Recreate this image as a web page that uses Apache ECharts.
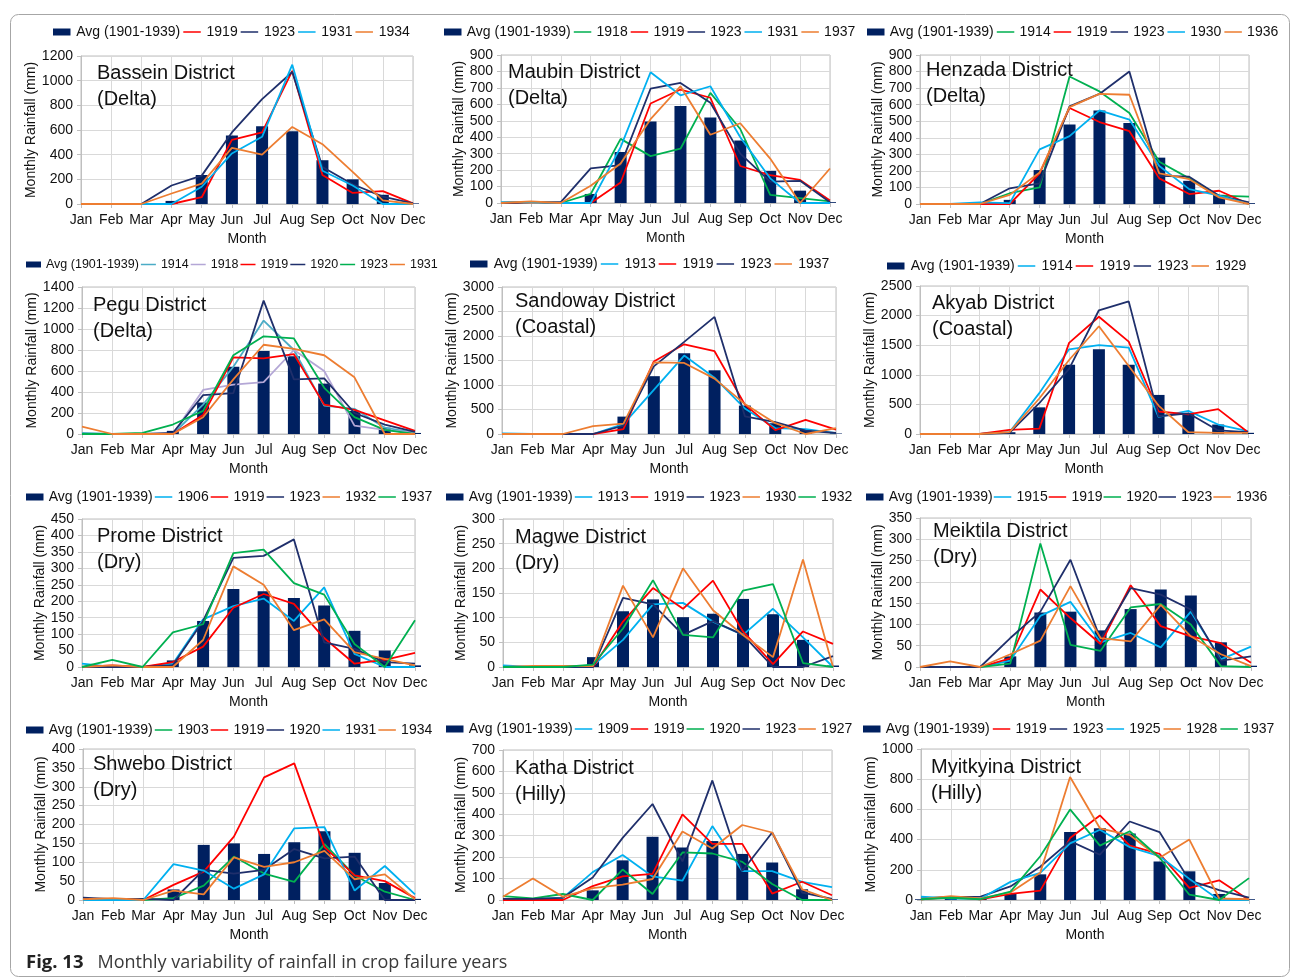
<!DOCTYPE html>
<html>
<head>
<meta charset="utf-8">
<script src="https://cdn.jsdelivr.net/npm/echarts@6.0.0/dist/echarts.min.js"></script>
<style>
  html, body { margin: 0; padding: 0; background: #ffffff; }
  #chart { width: 1295px; height: 979px; }
</style>
</head>
<body>
<div id="chart"></div>
<script>
// Month categories shared by every panel
const MONTHS = ['Jan', 'Feb', 'Mar', 'Apr', 'May', 'Jun', 'Jul', 'Aug', 'Sep', 'Oct', 'Nov', 'Dec'];

// Monthly rainfall (mm): long-term average and crop-failure years, per district
const basseinAvg  = [0, 0, 0, 25, 235, 555, 630, 590, 355, 200, 75, 5];
const bassein1919 = [0, 0, 0, 0, 55, 520, 580, 1080, 235, 90, 105, 5];
const bassein1923 = [0, 0, 0, 150, 230, 580, 850, 1070, 300, 160, 60, 5];
const bassein1931 = [0, 0, 0, 0, 140, 410, 545, 1130, 270, 150, 0, 0];
const bassein1934 = [0, 0, 0, 85, 165, 455, 400, 625, 485, 260, 30, 0];

const maubinAvg  = [0, 0, 0, 55, 310, 495, 590, 520, 380, 195, 75, 5];
const maubin1918 = [0, 5, 0, 55, 390, 285, 330, 670, 450, 50, 30, 10];
const maubin1919 = [0, 5, 0, 0, 125, 605, 690, 640, 225, 170, 140, 15];
const maubin1923 = [0, 5, 5, 210, 230, 695, 730, 610, 300, 130, 135, 5];
const maubin1931 = [5, 5, 0, 0, 340, 795, 655, 710, 400, 150, 0, 0];
const maubin1937 = [0, 10, 0, 105, 240, 510, 710, 415, 485, 270, 0, 210];

const henzadaAvg  = [0, 0, 0, 25, 205, 480, 565, 490, 280, 140, 55, 5];
const henzada1914 = [0, 0, 0, 65, 100, 770, 680, 550, 255, 155, 50, 45];
const henzada1919 = [0, 0, 0, 0, 185, 580, 495, 440, 155, 60, 80, 0];
const henzada1923 = [0, 0, 0, 95, 125, 590, 665, 800, 170, 165, 50, 10];
const henzada1930 = [0, 0, 10, 5, 330, 410, 565, 510, 230, 90, 50, 0];
const henzada1936 = [0, 0, 0, 55, 190, 585, 665, 660, 185, 150, 40, 0];

const peguAvg  = [0, 0, 0, 30, 300, 640, 790, 740, 480, 220, 60, 10];
const pegu1914 = [10, 0, 0, 0, 280, 640, 1080, 800, 270, 240, 60, 10];
const pegu1918 = [0, 0, 0, 0, 420, 470, 495, 800, 600, 80, 40, 10];
const pegu1919 = [0, 0, 0, 0, 180, 730, 720, 760, 280, 230, 130, 30];
const pegu1920 = [0, 0, 0, 10, 370, 390, 1270, 520, 530, 200, 90, 20];
const pegu1923 = [0, 0, 10, 90, 220, 750, 930, 910, 440, 160, 40, 0];
const pegu1931 = [70, 0, 0, 0, 160, 520, 850, 810, 750, 540, 0, 0];

const sandowayAvg  = [0, 0, 0, 0, 355, 1180, 1650, 1300, 580, 220, 100, 10];
const sandoway1913 = [10, 0, 0, 0, 200, 900, 1600, 1150, 520, 120, 100, 20];
const sandoway1919 = [0, 0, 0, 0, 100, 1480, 1830, 1690, 600, 80, 290, 90];
const sandoway1923 = [0, 0, 0, 0, 170, 1380, 1880, 2390, 360, 240, 70, 20];
const sandoway1937 = [0, 0, 0, 160, 210, 1460, 1450, 1130, 610, 220, 0, 120];

const akyabAvg  = [0, 0, 0, 30, 450, 1170, 1430, 1170, 660, 340, 160, 20];
const akyab1914 = [0, 0, 0, 30, 690, 1430, 1500, 1460, 290, 390, 160, 50];
const akyab1919 = [0, 0, 0, 70, 90, 1540, 1980, 1560, 380, 330, 420, 30];
const akyab1923 = [0, 0, 0, 20, 520, 1100, 2090, 2240, 300, 350, 60, 30];
const akyab1929 = [0, 0, 0, 30, 600, 1250, 1820, 1150, 480, 30, 20, 20];

const promeAvg  = [0, 0, 0, 20, 140, 237, 230, 210, 187, 110, 50, 5];
const prome1906 = [10, 0, 0, 10, 145, 185, 208, 140, 242, 40, 0, 0];
const prome1919 = [0, 5, 0, 15, 62, 180, 222, 192, 88, 10, 22, 43];
const prome1923 = [0, 0, 0, 5, 140, 332, 338, 388, 75, 55, 15, 10];
const prome1932 = [0, 5, 0, 0, 82, 306, 250, 112, 145, 45, 25, 5];
const prome1937 = [0, 22, 0, 105, 130, 346, 357, 255, 220, 70, 0, 142];

const magweAvg  = [0, 0, 0, 20, 113, 137, 101, 108, 138, 107, 55, 3];
const magwe1913 = [3, 0, 0, 3, 55, 127, 130, 92, 65, 118, 60, 0];
const magwe1919 = [0, 0, 0, 0, 92, 160, 118, 175, 72, 6, 72, 47];
const magwe1923 = [0, 0, 0, 0, 140, 127, 65, 93, 65, 0, 0, 22];
const magwe1930 = [0, 2, 2, 2, 165, 60, 200, 115, 65, 20, 218, 0];
const magwe1932 = [0, 0, 0, 5, 78, 176, 65, 60, 155, 168, 8, 0];

const meiktilaAvg  = [0, 2, 0, 25, 128, 130, 86, 136, 182, 168, 58, 3];
const meiktila1915 = [0, 0, 0, 15, 120, 153, 58, 80, 46, 130, 18, 48];
const meiktila1919 = [0, 0, 0, 20, 182, 115, 54, 192, 96, 72, 56, 10];
const meiktila1920 = [0, 0, 0, 8, 290, 52, 38, 140, 148, 100, 2, 0];
const meiktila1923 = [0, 0, 0, 68, 130, 252, 65, 185, 170, 135, 15, 25];
const meiktila1936 = [0, 13, 0, 30, 62, 190, 68, 60, 146, 72, 30, 2];

const shweboAvg  = [0, 0, 0, 28, 146, 150, 122, 153, 182, 125, 45, 3];
const shwebo1903 = [0, 2, 0, 5, 38, 115, 70, 48, 148, 65, 22, 0];
const shwebo1919 = [0, 3, 0, 40, 75, 168, 325, 362, 140, 65, 50, 5];
const shwebo1920 = [6, 2, 3, 0, 80, 70, 80, 135, 110, 115, 0, 0];
const shwebo1931 = [0, 0, 0, 95, 78, 30, 68, 190, 193, 25, 90, 15];
const shwebo1934 = [2, 5, 0, 25, 15, 113, 88, 100, 130, 55, 68, 2];

const kathaAvg  = [0, 0, 0, 45, 185, 295, 245, 275, 215, 175, 50, 3];
const katha1909 = [5, 5, 10, 130, 210, 110, 90, 345, 135, 135, 85, 60];
const katha1919 = [0, 0, 0, 65, 110, 122, 400, 262, 262, 30, 85, 22];
const katha1920 = [18, 8, 28, 0, 142, 28, 222, 217, 178, 75, 0, 0];
const katha1923 = [5, 5, 10, 105, 290, 448, 180, 558, 135, 315, 35, 5];
const katha1927 = [15, 100, 15, 55, 72, 98, 320, 240, 350, 315, 50, 0];

const myitkyinaAvg  = [5, 10, 10, 40, 170, 450, 475, 440, 255, 190, 40, 5];
const myitkyina1919 = [5, 20, 5, 40, 62, 410, 560, 360, 305, 80, 130, 0];
const myitkyina1923 = [10, 20, 22, 90, 220, 390, 300, 520, 450, 130, 65, 15];
const myitkyina1925 = [22, 10, 10, 120, 180, 375, 465, 350, 290, 140, 0, 0];
const myitkyina1928 = [5, 25, 10, 50, 180, 815, 475, 430, 280, 400, 10, 5];
const myitkyina1937 = [5, 15, 5, 55, 290, 600, 360, 455, 280, 35, 0, 145];

// Series colours
const BAR = '#002060', RED = '#ff0000', NAVY = '#1f2f6b', LBLUE = '#00b0f0',
      ORANGE = '#ed7d31', GREEN = '#00b050', TEAL = '#4bacc6', LAVENDER = '#b4a7d6';
const FONT = '"Liberation Sans", Arial, Helvetica, sans-serif';
const AVG_LABEL = 'Avg (1901-1939)';

// Legend glyphs: a filled block for the bars, a thin centred stroke for the lines
const ICON_BAR = 'path://M0,0 L20,0 L20,8 L0,8 Z';
const ICON_LINE = 'path://M0,0 L0.01,0 L0.01,0.01 Z M0,3.1 L20,3.1 L20,4.9 L0,4.9 Z M0,8 L0.01,8 L0.01,7.99 Z';

// One entry per district panel
const panels = [
  { key: 'Bassein', title: 'Bassein District\n(Delta)', max: 1200, step: 200, avg: basseinAvg,
    lines: [['1919', bassein1919, RED], ['1923', bassein1923, NAVY], ['1931', bassein1931, LBLUE], ['1934', bassein1934, ORANGE]] },
  { key: 'Maubin', title: 'Maubin District\n(Delta)', max: 900, step: 100, avg: maubinAvg,
    lines: [['1918', maubin1918, GREEN], ['1919', maubin1919, RED], ['1923', maubin1923, NAVY], ['1931', maubin1931, LBLUE], ['1937', maubin1937, ORANGE]] },
  { key: 'Henzada', title: 'Henzada District\n(Delta)', max: 900, step: 100, avg: henzadaAvg,
    lines: [['1914', henzada1914, GREEN], ['1919', henzada1919, RED], ['1923', henzada1923, NAVY], ['1930', henzada1930, LBLUE], ['1936', henzada1936, ORANGE]] },
  { key: 'Pegu', title: 'Pegu District\n(Delta)', max: 1400, step: 200, avg: peguAvg,
    lines: [['1914', pegu1914, TEAL], ['1918', pegu1918, LAVENDER], ['1919', pegu1919, RED], ['1920', pegu1920, NAVY], ['1923', pegu1923, GREEN], ['1931', pegu1931, ORANGE]] },
  { key: 'Sandoway', title: 'Sandoway District\n(Coastal)', max: 3000, step: 500, avg: sandowayAvg,
    lines: [['1913', sandoway1913, LBLUE], ['1919', sandoway1919, RED], ['1923', sandoway1923, NAVY], ['1937', sandoway1937, ORANGE]] },
  { key: 'Akyab', title: 'Akyab District\n(Coastal)', max: 2500, step: 500, avg: akyabAvg,
    lines: [['1914', akyab1914, LBLUE], ['1919', akyab1919, RED], ['1923', akyab1923, NAVY], ['1929', akyab1929, ORANGE]] },
  { key: 'Prome', title: 'Prome District\n(Dry)', max: 450, step: 50, avg: promeAvg,
    lines: [['1906', prome1906, LBLUE], ['1919', prome1919, RED], ['1923', prome1923, NAVY], ['1932', prome1932, ORANGE], ['1937', prome1937, GREEN]] },
  { key: 'Magwe', title: 'Magwe District\n(Dry)', max: 300, step: 50, avg: magweAvg,
    lines: [['1913', magwe1913, LBLUE], ['1919', magwe1919, RED], ['1923', magwe1923, NAVY], ['1930', magwe1930, ORANGE], ['1932', magwe1932, GREEN]] },
  { key: 'Meiktila', title: 'Meiktila District\n(Dry)', max: 350, step: 50, avg: meiktilaAvg,
    lines: [['1915', meiktila1915, LBLUE], ['1919', meiktila1919, RED], ['1920', meiktila1920, GREEN], ['1923', meiktila1923, NAVY], ['1936', meiktila1936, ORANGE]] },
  { key: 'Shwebo', title: 'Shwebo District\n(Dry)', max: 400, step: 50, avg: shweboAvg,
    lines: [['1903', shwebo1903, GREEN], ['1919', shwebo1919, RED], ['1920', shwebo1920, NAVY], ['1931', shwebo1931, LBLUE], ['1934', shwebo1934, ORANGE]] },
  { key: 'Katha', title: 'Katha District\n(Hilly)', max: 700, step: 100, avg: kathaAvg,
    lines: [['1909', katha1909, LBLUE], ['1919', katha1919, RED], ['1920', katha1920, GREEN], ['1923', katha1923, NAVY], ['1927', katha1927, ORANGE]] },
  { key: 'Myitkyina', title: 'Myitkyina District\n(Hilly)', max: 1000, step: 200, avg: myitkyinaAvg,
    lines: [['1919', myitkyina1919, RED], ['1923', myitkyina1923, NAVY], ['1925', myitkyina1925, LBLUE], ['1928', myitkyina1928, ORANGE], ['1937', myitkyina1937, GREEN]] }
];

// Plot rectangles (l, r, t, b), legend row and in-plot title placement
const layout = [
  { l: 81,  r: 413,  t: 56,  b: 204, lx: 53,  ly: 33,  fs: 14,   w: 19, g: 3, tx: 97,  ty: 72 },
  { l: 501, r: 830,  t: 55,  b: 203, lx: 444, ly: 33,  fs: 14,   w: 18, g: 3, tx: 508, ty: 71 },
  { l: 920, r: 1249, t: 55,  b: 204, lx: 867, ly: 33,  fs: 14,   w: 18, g: 3, tx: 926, ty: 69 },
  { l: 82,  r: 415,  t: 287, b: 434, lx: 26,  ly: 266, fs: 12.5, w: 15, g: 2, tx: 93,  ty: 304 },
  { l: 502, r: 836,  t: 287, b: 434, lx: 470, ly: 265, fs: 14,   w: 20, g: 3, tx: 515, ty: 300 },
  { l: 920, r: 1248, t: 286, b: 434, lx: 887, ly: 267, fs: 14,   w: 20, g: 3, tx: 932, ty: 302 },
  { l: 82,  r: 415,  t: 519, b: 667, lx: 26,  ly: 498, fs: 14,   w: 18, g: 2, tx: 97,  ty: 535 },
  { l: 503, r: 833,  t: 519, b: 667, lx: 446, ly: 498, fs: 14,   w: 18, g: 2, tx: 515, ty: 536 },
  { l: 920, r: 1251, t: 518, b: 667, lx: 866, ly: 498, fs: 14,   w: 18, g: 1, tx: 933, ty: 530 },
  { l: 83,  r: 415,  t: 749, b: 900, lx: 26,  ly: 731, fs: 14,   w: 18, g: 2, tx: 93,  ty: 763 },
  { l: 503, r: 832,  t: 750, b: 900, lx: 446, ly: 730, fs: 14,   w: 18, g: 2, tx: 515, ty: 767 },
  { l: 921, r: 1249, t: 749, b: 900, lx: 863, ly: 730, fs: 14,   w: 18, g: 3, tx: 931, ty: 766 }
];

const option = {
  animation: false,
  backgroundColor: '#ffffff',
  grid: [], xAxis: [], yAxis: [], series: [], legend: [],
  graphic: [
    { type: 'rect', silent: true, z: 0,
      shape: { x: 10.5, y: 14.5, width: 1279, height: 962, r: 8 },
      style: { fill: 'none', stroke: '#a6a6a6', lineWidth: 1 } },
    { type: 'text', silent: true, left: 26, top: 953,
      style: {
        text: '{b|Fig. 13}{r|   Monthly variability of rainfall in crop failure years}',
        rich: {
          b: { fontFamily: '"Open Sans", "Noto Sans", sans-serif', fontWeight: 'bold', fontSize: 18.5, fill: '#222' },
          r: { fontFamily: '"Open Sans", "Noto Sans", sans-serif', fontSize: 18, fill: '#3a3a3a' }
        }
      } }
  ]
};

const axisText = { fontFamily: FONT, fontSize: 14, color: '#111' };

panels.forEach((p, i) => {
  const L = layout[i];
  option.grid.push({
    left: L.l, top: L.t, width: L.r - L.l, height: L.b - L.t,
    show: true, borderColor: '#bfbfbf', borderWidth: 1, backgroundColor: 'transparent'
  });
  option.xAxis.push({
    type: 'category', gridIndex: i, data: MONTHS, boundaryGap: false,
    name: 'Month', nameLocation: 'middle', nameGap: 28, nameTextStyle: axisText,
    axisLine: { lineStyle: { color: '#bfbfbf' } },
    axisTick: { show: true, length: 4, interval: 0, lineStyle: { color: '#bfbfbf' } },
    axisLabel: Object.assign({ interval: 0, margin: 9 }, axisText),
    splitLine: { show: true, interval: 0, lineStyle: { color: '#d9d9d9' } }
  });
  option.yAxis.push({
    type: 'value', gridIndex: i, min: 0, max: p.max, interval: p.step,
    name: 'Monthly Rainfall (mm)', nameLocation: 'middle', nameGap: 35, nameTextStyle: axisText,
    axisLine: { show: true, lineStyle: { color: '#bfbfbf' } },
    axisTick: { show: true, length: 4, lineStyle: { color: '#bfbfbf' } },
    axisLabel: Object.assign({ margin: 8, formatter: (v) => String(v) }, axisText),
    splitLine: { show: true, lineStyle: { color: '#d9d9d9' } }
  });

  const avgName = p.key + ' ' + AVG_LABEL;
  option.series.push({
    type: 'bar', name: avgName, xAxisIndex: i, yAxisIndex: i, data: p.avg,
    barWidth: 12, itemStyle: { color: BAR }, z: 2
  });
  const legendData = [{ name: avgName, icon: ICON_BAR, itemStyle: { color: BAR } }];
  p.lines.forEach(([year, values, color]) => {
    const nm = p.key + ' ' + year;
    option.series.push({
      type: 'line', name: nm, xAxisIndex: i, yAxisIndex: i, data: values,
      symbol: 'none', color: color, lineStyle: { color: color, width: 1.8 }, z: 3
    });
    legendData.push({ name: nm, icon: ICON_LINE, itemStyle: { color: color, borderWidth: 0 } });
  });

  option.legend.push({
    left: L.lx, top: L.ly - 8, padding: 0, orient: 'horizontal',
    itemWidth: L.w, itemHeight: 7, itemGap: L.g, selectedMode: false,
    textStyle: { fontFamily: FONT, fontSize: L.fs, color: '#111' },
    formatter: (n) => n.replace(/^\S+\s/, ''),
    data: legendData
  });

  option.graphic.push({
    type: 'text', silent: true, z: 10, left: L.tx, top: L.ty - 12,
    style: { text: p.title, fontFamily: FONT, fontSize: 20, lineHeight: 26, fill: '#111' }
  });
});

const chart = echarts.init(document.getElementById('chart'), null, { renderer: 'canvas' });
chart.setOption(option);
</script>
</body>
</html>
